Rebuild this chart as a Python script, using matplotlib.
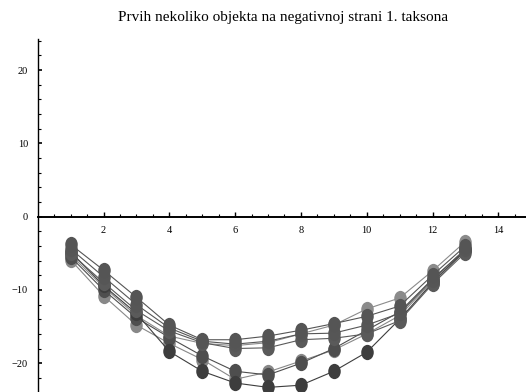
import numpy as np
import matplotlib
matplotlib.use('Agg')
import matplotlib.pyplot as plt
from matplotlib.path import Path
from matplotlib.ticker import FixedLocator

# data
x = [1, 2, 3, 4, 5, 6, 7, 8, 9, 10, 11, 12, 13]

s1 = [-3.8, -7.3, -11.0, -14.8, -16.8, -16.8, -16.3, -15.5, -14.6, -13.6, -12.2, -8.0, -4.0]
s2 = [-4.4, -8.2, -12.0, -15.2, -17.0, -17.4, -17.0, -16.0, -15.9, -14.8, -13.2, -8.6, -4.4]
s3 = [-5.0, -9.0, -12.8, -15.6, -17.2, -18.0, -17.9, -16.8, -16.6, -16.0, -14.2, -9.2, -4.9]
s4 = [-5.2, -9.6, -13.5, -16.3, -17.3, -17.6, -17.2, -16.0, -14.8, -12.6, -11.1, -7.4, -3.4]
s5 = [-5.9, -10.8, -14.8, -17.3, -19.5, -22.2, -21.2, -19.7, -18.2, -16.0, -13.5, -8.8, -4.6]
s6 = [-5.5, -10.0, -13.8, -16.5, -19.0, -21.1, -21.6, -20.0, -18.0, -15.5, -13.0, -8.5, -4.5]
s7 = [-4.8, -9.4, -13.2, -18.4, -21.1, -22.7, -23.3, -23.0, -21.1, -18.5, -14.0, -9.0, -4.6]

series = [s4, s5, s6, s7, s3, s2, s1]
colors = ['#8b8b8b', '#888888', '#4e4e4e', '#3d3d3d', '#5a5a5a', '#565656', '#555555']

title = 'Prvih nekoliko objekta na negativnoj strani 1. taksona'
xticks = [2, 4, 6, 8, 10, 12, 14]
yticks = [-20, -10, 0, 10, 20]

# slightly tall oval marker
circ = Path.unit_circle()
oval = Path(circ.vertices * np.array([0.82, 1.0]), circ.codes)

fig = plt.figure(figsize=(5.26, 3.92), dpi=100)
ax = fig.add_axes([0, 0, 1, 1])

for s, c in zip(series, colors):
    ax.plot(x, s, color=c, lw=0.8, marker=oval, markersize=11,
            markerfacecolor=c, markeredgecolor=c, markeredgewidth=0)

ax.set_xlim(-1.146, 14.84)
ax.set_ylim(-23.93, 29.55)

for side in ['top', 'right']:
    ax.spines[side].set_visible(False)
ax.spines['left'].set_position(('data', 0))
ax.spines['bottom'].set_position(('data', 0))
ax.spines['left'].set_bounds(-24, 24.2)
ax.spines['bottom'].set_bounds(0, 14.84)
ax.spines['left'].set_linewidth(1.0)
ax.spines['bottom'].set_linewidth(1.4)

ax.xaxis.set_major_locator(FixedLocator(xticks))
ax.xaxis.set_minor_locator(FixedLocator([v for v in np.arange(0.5, 14.9, 0.5) if v not in xticks]))
ax.yaxis.set_major_locator(FixedLocator(yticks))
ax.yaxis.set_minor_locator(FixedLocator([v for v in range(-24, 25, 2) if v not in yticks]))

ax.tick_params(axis='x', which='major', direction='in', length=3.6, width=1, pad=7,
               labelsize=7.5)
ax.tick_params(axis='x', which='minor', direction='in', length=2, width=0.8)
ax.tick_params(axis='y', which='major', direction='in', length=3, width=1.2, pad=7,
               labelsize=7.5)
ax.tick_params(axis='y', which='minor', direction='in', length=2, width=0.8)
for lab in ax.get_xticklabels() + ax.get_yticklabels():
    lab.set_family('Liberation Serif')

fig.text(283.5 / 526, 1 - 18 / 392, title, ha='center', va='center',
         family='Liberation Serif', fontsize=11)

fig.savefig('out.png', dpi=100)
